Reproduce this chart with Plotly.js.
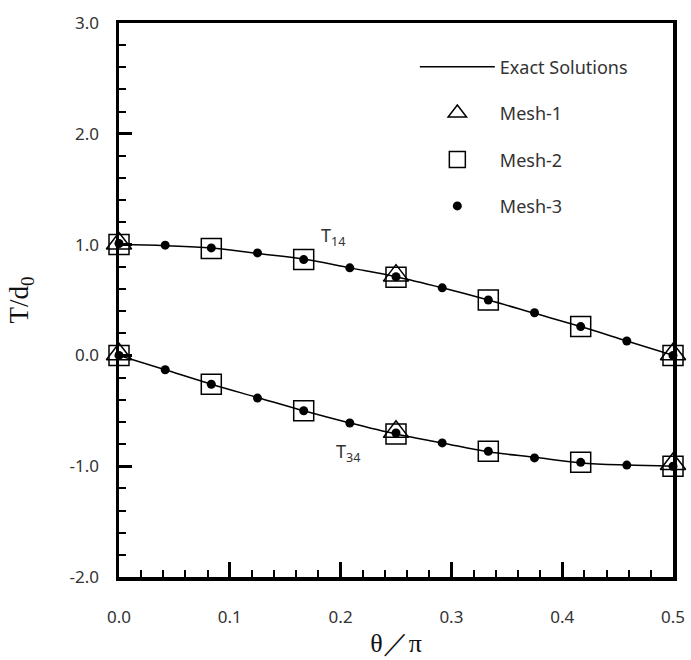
<!DOCTYPE html>
<html>
<head>
<meta charset="utf-8">
<script src="https://cdn.plot.ly/plotly-3.0.1.min.js"></script>
<style>html,body{margin:0;padding:0;background:#fff;}#chart{width:691px;height:660px;}</style>
</head>
<body>
<div id="chart"></div>
<script>
// theta/pi positions
const xFine = [0, 0.0417, 0.0833, 0.125, 0.1667, 0.2083, 0.25, 0.2917, 0.3333, 0.375, 0.4167, 0.4583, 0.5];
// exact solution curves
const exactT14 = [1.00, 0.99, 0.97, 0.92, 0.87, 0.79, 0.71, 0.61, 0.50, 0.38, 0.26, 0.13, 0.00];
const exactT34 = [0.00, -0.13, -0.26, -0.38, -0.50, -0.61, -0.71, -0.79, -0.87, -0.92, -0.97, -0.99, -1.00];
// Mesh-1
const xMesh1 = [0, 0.25, 0.5];
const mesh1T14 = [1.01, 0.72, 0.01];
const mesh1T34 = [0.01, -0.69, -0.98];
// Mesh-2
const xMesh2 = [0, 0.0833, 0.1667, 0.25, 0.3333, 0.4167, 0.5];
const mesh2T14 = [1.00, 0.965, 0.865, 0.705, 0.50, 0.26, 0.00];
const mesh2T34 = [0.00, -0.26, -0.50, -0.71, -0.865, -0.965, -1.00];
// Mesh-3
const xMesh3 = xFine;
const mesh3T14 = [1.01, 0.995, 0.97, 0.925, 0.865, 0.79, 0.71, 0.61, 0.50, 0.385, 0.26, 0.13, 0.00];
const mesh3T34 = [0.00, -0.13, -0.26, -0.385, -0.50, -0.61, -0.70, -0.79, -0.865, -0.925, -0.965, -0.99, -1.00];
// tick labels
const xTickVals = [0, 0.1, 0.2, 0.3, 0.4, 0.5];
const xTickText = ['0.0', '0.1', '0.2', '0.3', '0.4', '0.5'];
const yTickVals = [-2, -1, 0, 1, 2, 3];
const yTickText = ['-2.0', '-1.0', '0.0', '1.0', '2.0', '3.0'];

const join = (a, b) => a.concat([null], b);

const traces = [
  {x: join(xFine, xFine), y: join(exactT14, exactT34), name: 'Exact Solutions', mode: 'lines',
   line: {color: 'black', width: 1.5, shape: 'spline'}, connectgaps: false, legendgroup: 'a', cliponaxis: false},
  {x: join(xMesh1, xMesh1), y: join(mesh1T14, mesh1T34), name: 'Mesh-1', mode: 'markers', cliponaxis: false,
   marker: {symbol: 'triangle-up-open', size: 22, color: 'black', line: {width: 1.5, color: 'black'}}, legendgroup: 'b'},
  {x: join(xMesh2, xMesh2), y: join(mesh2T14, mesh2T34), name: 'Mesh-2', mode: 'markers', cliponaxis: false,
   marker: {symbol: 'square-open', size: 20, color: 'black', line: {width: 1.5, color: 'black'}}, legendgroup: 'c'},
  {x: join(xMesh3, xMesh3), y: join(mesh3T14, mesh3T34), name: 'Mesh-3', mode: 'markers', cliponaxis: false,
   marker: {symbol: 'circle', size: 9, color: 'black'}, legendgroup: 'd'}
];

const tickFont = {family: 'Noto Sans, sans-serif', size: 17, color: '#333'};

const layout = {
  width: 691, height: 660,
  margin: {l: 119, r: 18, t: 23, b: 83},
  paper_bgcolor: 'white', plot_bgcolor: 'white',
  showlegend: true,
  legend: {x: 0.534, y: 0.954, xanchor: 'left', yanchor: 'top', bgcolor: 'rgba(0,0,0,0)',
           font: {family: 'Noto Sans, sans-serif', size: 18, color: '#333'},
           tracegroupgap: 20, itemwidth: 75},
  xaxis: {
    range: [0, 0.5], tickmode: 'array', tickvals: xTickVals, ticktext: xTickText,
    showgrid: false, zeroline: false,
    showline: true, linewidth: 3.5, linecolor: 'black', mirror: true,
    ticks: 'inside', ticklen: 15, tickwidth: 3, tickcolor: 'black',
    minor: {dtick: 0.02, tick0: 0, ticks: 'inside', ticklen: 7, tickwidth: 2, tickcolor: 'black', showgrid: false},
    tickfont: tickFont, ticklabelstandoff: 22,
    title: {text: 'θ／π', font: {family: 'Liberation Serif, serif', size: 26, color: '#111'}, standoff: 8}
  },
  yaxis: {
    range: [-2, 3], tickmode: 'array', tickvals: yTickVals, ticktext: yTickText,
    showgrid: false, zeroline: false,
    showline: true, linewidth: 3.5, linecolor: 'black', mirror: true,
    ticks: 'inside', ticklen: 13, tickwidth: 3, tickcolor: 'black',
    minor: {dtick: 0.2, tick0: 0, ticks: 'inside', ticklen: 7, tickwidth: 2, tickcolor: 'black', showgrid: false},
    tickfont: tickFont, ticklabelstandoff: 13,
    title: {text: 'T/d<sub>0</sub>', font: {family: 'Liberation Serif, serif', size: 27, color: '#111'}, standoff: 34}
  },
  annotations: [
    {x: 0.193, y: 1.07, xref: 'x', yref: 'y', text: 'T<sub>14</sub>', showarrow: false,
     font: {family: 'Noto Sans, sans-serif', size: 18, color: '#333'}},
    {x: 0.207, y: -0.88, xref: 'x', yref: 'y', text: 'T<sub>34</sub>', showarrow: false,
     font: {family: 'Noto Sans, sans-serif', size: 18, color: '#333'}}
  ]
};

Plotly.newPlot('chart', traces, layout, {displayModeBar: false, staticPlot: true});
</script>
</body>
</html>
